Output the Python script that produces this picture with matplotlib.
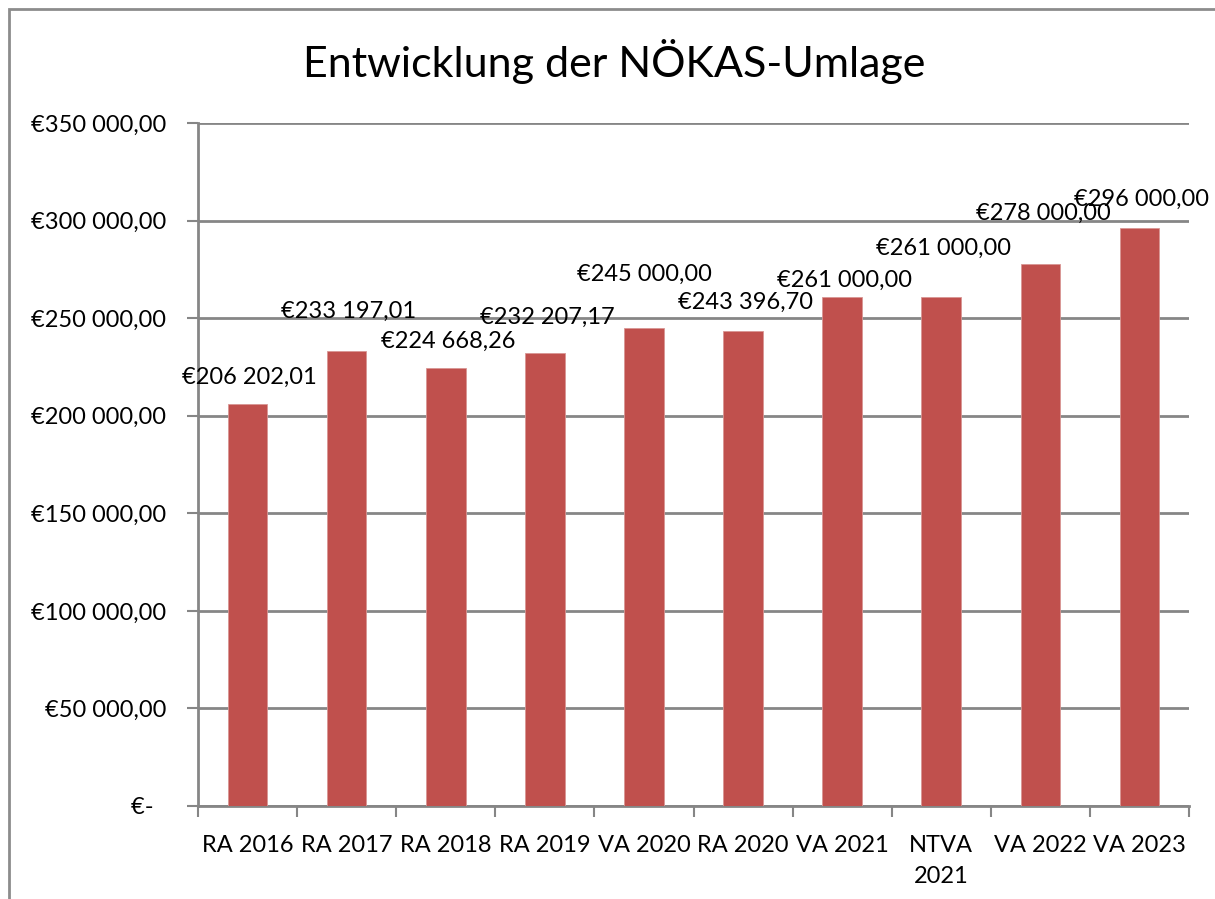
import matplotlib
matplotlib.use("Agg")
import matplotlib.pyplot as plt
from matplotlib.patches import Rectangle

categories = ["RA 2016", "RA 2017", "RA 2018", "RA 2019", "VA 2020",
              "RA 2020", "VA 2021", "NTVA\n2021", "VA 2022", "VA 2023"]
values = [206202.01, 233197.01, 224668.26, 232207.17, 245000.00,
          243396.70, 261000.00, 261000.00, 278000.00, 296000.00]
y_ticks = [0, 50000, 100000, 150000, 200000, 250000, 300000, 350000]
title = "Entwicklung der NÖKAS-Umlage"

# label offsets (pixels: dx, dy of label centre relative to bar top centre)
label_offsets = [(2, 26), (2, 40), (2, 26), (2, 36), (0, 54),
                 (2, 29), (2, 16), (2, 48), (3, 50), (2, 29)]

def euro(v):
    if v == 0:
        return "€-  "
    s = f"{v:,.2f}"
    s = s.replace(",", " ").replace(".", ",")
    return "€" + s

plt.rcParams['font.family'] = ['Lato', 'DejaVu Sans']

W, H = 1215, 899
fig = plt.figure(figsize=(W / 100, H / 100), dpi=100)
fig.patch.set_facecolor("white")

# outer chart frame
fig.add_artist(Rectangle((9 / W, -0.1), 1.2, 1 - 9 / H + 0.1, transform=fig.transFigure,
                         fill=False, edgecolor="#8c8c8c", linewidth=2))

ax = fig.add_axes([198 / W, 1 - 806 / H, (1189 - 198) / W, (806 - 123) / H])
x = list(range(len(categories)))
bars = ax.bar(x, values, width=0.4, color="#C0504D", edgecolor="#D99694",
              linewidth=0.6, zorder=3)

ax.set_xlim(-0.5, len(categories) - 0.5)
ax.set_ylim(0, 350000)
ax.set_yticks(y_ticks)
ax.set_yticklabels([euro(v) for v in y_ticks], fontsize=17)
ax.yaxis.grid(True, color="#868686", linewidth=2, zorder=0)
ax.set_axisbelow(True)

ax.set_xticks(x)
ax.set_xticklabels(categories, fontsize=17, linespacing=1.55)
ax.set_xticks([i - 0.5 for i in range(len(categories) + 1)], minor=True)
ax.tick_params(axis="x", which="major", length=0, pad=21)
ax.tick_params(axis="x", which="minor", length=8, width=1.5, color="#868686")
ax.tick_params(axis="y", length=8, width=1.5, color="#868686", pad=15)

for s in ["top", "right"]:
    ax.spines[s].set_visible(False)
for s in ["left", "bottom"]:
    ax.spines[s].set_color("#868686")
    ax.spines[s].set_linewidth(2)

for xi, v, (dx, dy) in zip(x, values, label_offsets):
    ax.annotate(euro(v), (xi, v), xytext=(dx * 0.72, dy * 0.72), textcoords="offset points",
                ha="center", va="center", fontsize=17, zorder=4)

fig.text(614 / W, 1 - 62 / H, title, ha="center", va="center", fontsize=31)

fig.savefig("out.png", dpi=100)
